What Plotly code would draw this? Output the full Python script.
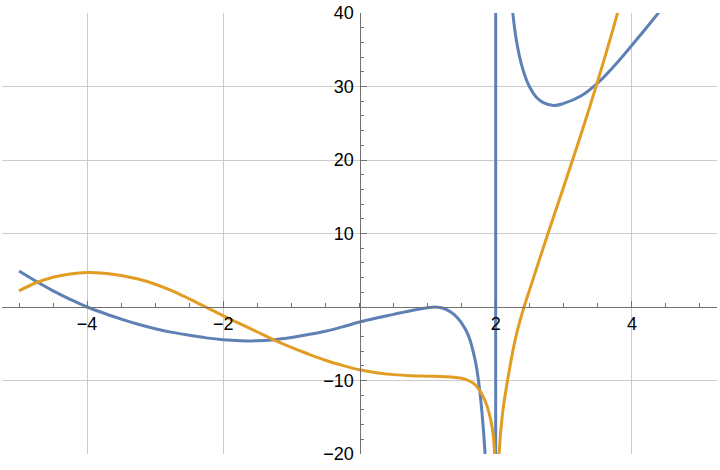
import plotly.graph_objects as go

# Blue curve
blue_x = [-5.0, -4.75, -4.5, -4.25, -4.0, -3.75, -3.5, -3.25, -3.0, -2.75, -2.5, -2.25, -2.0, -1.75,
          -1.5, -1.25, -1.0, -0.75, -0.5, -0.25, 0.0, 0.25, 0.5, 0.75, 1.0, 1.1, 1.2, 1.3, 1.4,
          1.5, 1.6, 1.7, 1.75, 1.8, 1.85, 1.9, 1.95, 1.995,
          2.005, 2.05, 2.1, 2.2, 2.3, 2.4, 2.5, 2.6, 2.7, 2.85, 3.0, 3.25, 3.5, 3.75, 4.0, 4.25, 4.5]
blue_y = [4.9, 3.5, 2.2, 1.05, 0.0, -0.85, -1.65, -2.35, -2.95, -3.45, -3.85, -4.2, -4.45, -4.58,
          -4.6, -4.45, -4.15, -3.75, -3.3, -2.7, -2.05, -1.5, -1.0, -0.5, -0.1, 0.0, -0.1, -0.45, -1.1,
          -2.2, -3.9, -7.3, -10.2, -14.5, -21.0, -36.0, -79.0, -1000.0,
          1000.0, 95.0, 60.0, 45.0, 36.5, 32.3, 29.9, 28.5, 27.8, 27.4, 27.7, 28.7, 30.5, 32.9, 35.6, 38.4, 41.3]

# Orange curve
orange_x = [-5.0, -4.75, -4.5, -4.25, -4.0, -3.75, -3.5, -3.25, -3.0, -2.75, -2.5, -2.25, -2.0, -1.75,
            -1.5, -1.25, -1.0, -0.75, -0.5, -0.25, 0.0, 0.25, 0.5, 0.75, 1.0, 1.25, 1.5, 1.6, 1.7,
            1.8, 1.85, 1.9, 1.95, 1.98, 2.0,
            2.05, 2.1, 2.2, 2.3, 2.4, 2.5, 2.75, 3.0, 3.25, 3.5, 3.75, 4.0]
orange_y = [2.2, 3.3, 4.05, 4.5, 4.7, 4.6, 4.3, 3.8, 3.1, 2.2, 1.1, -0.05, -1.2, -2.3,
            -3.4, -4.5, -5.5, -6.4, -7.25, -7.95, -8.55, -8.95, -9.2, -9.35, -9.42, -9.48, -9.7, -10.0, -10.6,
            -11.9, -12.9, -14.3, -16.5, -19.2, -45.0,
            -20.0, -14.5, -8.6, -3.9, -0.5, 2.4, 9.5, 16.4, 23.4, 30.8, 38.7, 47.3]

x_tickvals = [-4, -2, 2, 4]
x_ticktext = ["\u22124", "\u22122", "2", "4"]
y_tickvals = [-20, -10, 10, 20, 30, 40]
y_ticktext = ["\u221220", "\u221210", "10", "20", "30", "40"]

BLUE = "#5E81B5"
ORANGE = "#E19C24"
AXIS = "#707070"
GRID = "#cccccc"

fig = go.Figure()
fig.add_trace(go.Scatter(x=blue_x, y=blue_y, mode="lines",
                         line=dict(color=BLUE, width=3, shape="spline", smoothing=1.0),
                         showlegend=False, hoverinfo="skip"))
fig.add_trace(go.Scatter(x=orange_x, y=orange_y, mode="lines",
                         line=dict(color=ORANGE, width=3, shape="spline", smoothing=1.0),
                         showlegend=False, hoverinfo="skip"))

fig.update_layout(
    width=720, height=470,
    margin=dict(l=2, r=3, t=13, b=16),
    paper_bgcolor="white", plot_bgcolor="white",
    font=dict(family="Liberation Sans, Arial, sans-serif", size=18, color="black"),
    xaxis=dict(
        range=[-5.25, 5.25], tickvals=x_tickvals, ticktext=x_ticktext,
        showgrid=True, gridcolor=GRID, gridwidth=1, zeroline=False,
        showline=True, linecolor=AXIS, linewidth=1,
        anchor="free", position=1/3, automargin=False,
        ticks="inside", ticklen=6, tickcolor=AXIS, tickwidth=1,
        ticklabelstandoff=0,
        minor=dict(dtick=0.5, tick0=0, ticks="inside", ticklen=4, tickcolor=AXIS, showgrid=False),
    ),
    yaxis=dict(
        range=[-20, 40], tickvals=y_tickvals, ticktext=y_ticktext,
        showgrid=True, gridcolor=GRID, gridwidth=1, zeroline=False,
        showline=True, linecolor=AXIS, linewidth=1,
        anchor="free", position=0.5, automargin=False,
        ticks="inside", ticklen=6, tickcolor=AXIS, tickwidth=1,
        ticklabelstandoff=2,
        minor=dict(dtick=2, tick0=0, ticks="inside", ticklen=3, tickcolor=AXIS, showgrid=False),
    ),
)

fig.write_html("out.html", config={"displayModeBar": False},
               post_script="document.body.style.margin='0';document.body.style.overflow='hidden';")
